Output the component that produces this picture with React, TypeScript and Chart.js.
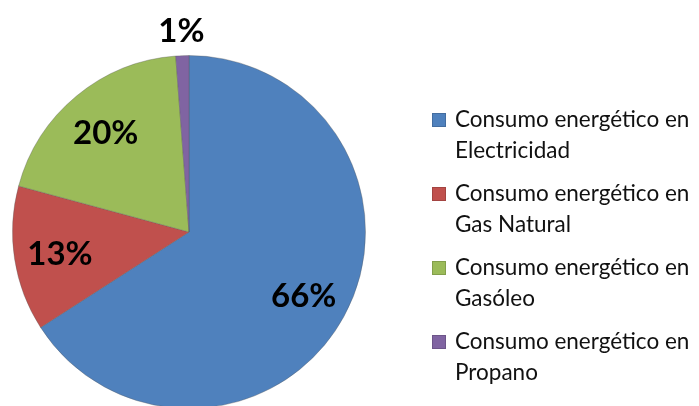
import { useEffect, useRef } from "react";
import { Chart, registerables } from "chart.js";

Chart.register(...registerables);

const categories = [
  "Consumo energético en Electricidad",
  "Consumo energético en Gas Natural",
  "Consumo energético en Gasóleo",
  "Consumo energético en Propano",
];
const values = [65.9, 13.3, 19.6, 1.2];
const colors = ["#4F81BD", "#C0504D", "#9BBB59", "#8064A2"];

const W = 699;
const H = 420;

const pctLabels = {
  id: "pctLabels",
  afterDatasetsDraw(chart: any) {
    const ctx = chart.ctx;
    const meta = chart.getDatasetMeta(0);
    const total = values.reduce((a, b) => a + b, 0);
    meta.data.forEach((arc: any, i: number) => {
      const { x, y, startAngle, endAngle, outerRadius } = arc.getProps(
        ["x", "y", "startAngle", "endAngle", "outerRadius"],
        true
      );
      const mid = (startAngle + endAngle) / 2;
      const pct = (values[i] / total) * 100;
      const r = pct < 5 ? outerRadius * 1.15 : outerRadius * 0.74;
      ctx.save();
      ctx.font = "bold 33px Lato";
      ctx.fillStyle = "#000";
      ctx.textAlign = "center";
      ctx.textBaseline = "middle";
      ctx.fillText(Math.round(pct) + "%", x + Math.cos(mid) * r, y + Math.sin(mid) * r + 2);
      ctx.restore();
    });
  },
};

const sideLegend = {
  id: "sideLegend",
  afterDraw(chart: any) {
    const ctx = chart.ctx;
    const boxX = 432;
    const textX = 455;
    const y0 = 120;
    const step = 74;
    const lineGap = 31;
    ctx.save();
    ctx.font = "22.5px Lato";
    ctx.textBaseline = "middle";
    ctx.textAlign = "left";
    categories.forEach((label, i) => {
      const y = y0 + i * step;
      const idx = label.indexOf(" en ") + 3;
      const lines = [label.slice(0, idx), label.slice(idx + 1)];
      ctx.fillStyle = colors[i];
      ctx.fillRect(boxX, y - 7, 14, 14);
      ctx.strokeStyle = "rgba(0,0,0,0.15)";
      ctx.lineWidth = 1;
      ctx.strokeRect(boxX + 0.5, y - 6.5, 13, 13);
      ctx.fillStyle = "#111";
      lines.forEach((ln, j) => ctx.fillText(ln, textX, y + j * lineGap));
    });
    ctx.restore();
  },
};

export default function App() {
  const ref = useRef<HTMLCanvasElement | null>(null);
  useEffect(() => {
    if (!ref.current) return;
    const chart = new Chart(ref.current, {
      type: "pie",
      data: {
        labels: categories,
        datasets: [
          {
            data: values,
            backgroundColor: colors,
            borderColor: "rgba(90,90,90,0.35)",
            borderWidth: 1,
          },
        ],
      },
      options: {
        responsive: false,
        animation: false,
        layout: { padding: { left: 12, top: 55, right: 333, bottom: 11 } },
        plugins: {
          legend: { display: false },
          tooltip: { enabled: false },
        },
      },
      plugins: [pctLabels, sideLegend],
    });
    return () => chart.destroy();
  }, []);
  return (
    <div
      style={{
        position: "fixed",
        left: 0,
        top: 0,
        width: W,
        height: 406,
        overflow: "hidden",
        background: "#fff",
      }}
    >
      <canvas ref={ref} width={W} height={H} style={{ width: W, height: H, display: "block" }} />
    </div>
  );
}
